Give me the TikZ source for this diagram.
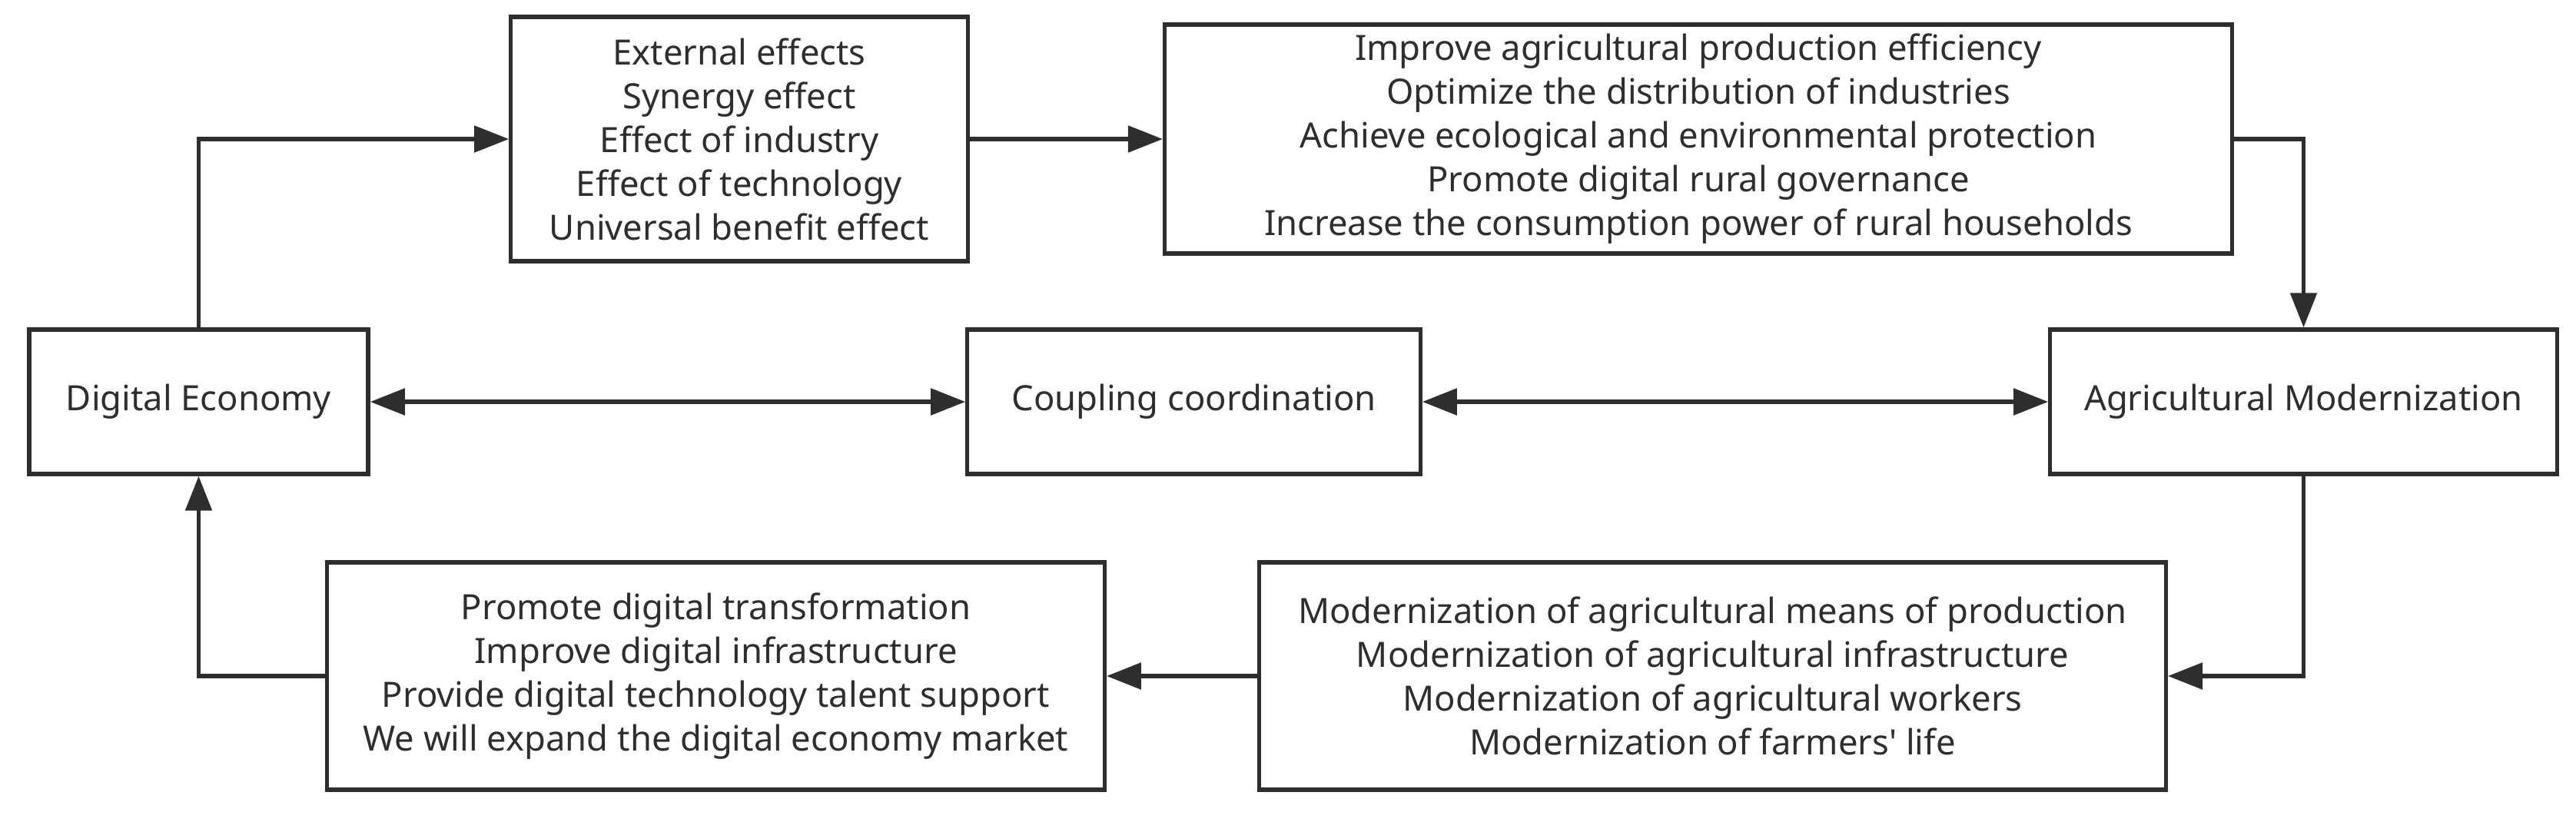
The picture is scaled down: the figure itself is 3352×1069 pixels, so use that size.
\documentclass[tikz,border=0pt]{standalone}
\usepackage{fontspec}
\setmainfont{Noto Sans}
\usetikzlibrary{arrows.meta}
\definecolor{ink}{HTML}{2E2E2E}
\begin{document}
\begin{tikzpicture}[x=0.01cm,y=-0.01cm,
	box/.style={draw=ink,line width=1.5pt,align=center,inner sep=0pt,text=ink,font=\fontsize{12.9}{16.2}\selectfont},
	link/.style={draw=ink,line width=1.5pt,-{Triangle[length=0.45cm,width=0.34cm]}},
	both/.style={draw=ink,line width=1.5pt,{Triangle[length=0.45cm,width=0.34cm]}-{Triangle[length=0.45cm,width=0.34cm]}}]
\useasboundingbox (0,0) rectangle (3352,1069);
\foreach \n/\x/\y/\w/\h/\t in {
	de/258.5/523/4.41/1.88/{Digital Economy},
	cc/1553.5/523/5.89/1.88/{Coupling coordination},
	am/2997.5/523/6.59/1.88/{Agricultural Modernization},
	eff/962/181/5.94/3.18/{External effects\\Synergy effect\\Effect of industry\\Effect of technology\\Universal benefit effect},
	imp/2210/181/13.88/2.98/{Improve agricultural production efficiency\\Optimize the distribution of industries\\Achieve ecological and environmental protection\\Promote digital rural governance\\Increase the consumption power of rural households},
	prm/931.5/880/10.11/2.96/{Promote digital transformation\\Improve digital infrastructure\\Provide digital technology talent support\\We will expand the digital economy market},
	mod/2228.5/880/11.79/2.96/{Modernization of agricultural means of production\\Modernization of agricultural infrastructure\\Modernization of agricultural workers\\Modernization of farmers\textquotesingle\ life}} {
	\node[box,minimum width=\w cm,minimum height=\h cm] (\n) at (\x,\y) {\t};
}
\draw[link] (de.north) |- (eff.west);
\draw[link] (eff) -- (imp);
\draw[link] (imp.east) -| (am.north);
\draw[link] (am.south) |- (mod.east);
\draw[link] (mod) -- (prm);
\draw[link] (prm.west) -| (de.south);
\draw[both] (de) -- (cc);
\draw[both] (cc) -- (am);
\end{tikzpicture}
\end{document}
